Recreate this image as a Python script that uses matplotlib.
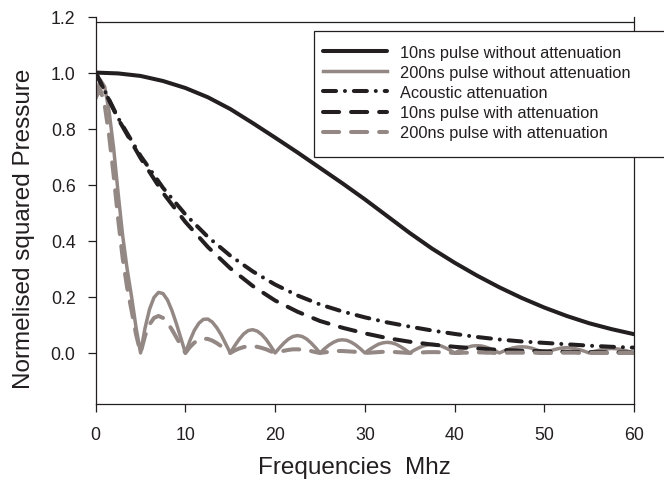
import matplotlib
matplotlib.use("Agg")
import matplotlib.pyplot as plt
from matplotlib.patches import Rectangle

plt.rcParams['font.family'] = ['Liberation Sans', 'DejaVu Sans']
plt.rcParams['lines.scale_dashes'] = False

# ---------------- data ----------------
freq_coarse = [0, 2.5, 5, 7.5, 10, 12.5, 15, 17.5, 20, 22.5, 25, 27.5, 30,
               32.5, 35, 37.5, 40, 42.5, 45, 47.5, 50, 52.5, 55, 57.5, 60]

p10_no_att = [1.0, 0.997, 0.988, 0.970, 0.945, 0.912, 0.870, 0.820, 0.768, 0.715,
              0.660, 0.605, 0.548, 0.488, 0.428, 0.372, 0.322, 0.276, 0.234, 0.196,
              0.162, 0.132, 0.106, 0.085, 0.067]

acoustic_att = [1.0, 0.838, 0.703, 0.589, 0.494, 0.414, 0.347, 0.291, 0.244, 0.205,
                0.173, 0.148, 0.127, 0.109, 0.094, 0.080, 0.068, 0.057, 0.048, 0.041,
                0.036, 0.031, 0.026, 0.022, 0.019]

p10_att = [1.0, 0.835, 0.695, 0.571, 0.467, 0.378, 0.302, 0.239, 0.187, 0.147,
           0.114, 0.090, 0.070, 0.053, 0.040, 0.030, 0.022, 0.016, 0.011, 0.008,
           0.006, 0.004, 0.003, 0.002, 0.001]

freq_fine = [0, 0.5, 1, 1.5, 2, 2.5, 3, 3.5, 4, 4.5, 5,
             5.5, 6, 6.5, 7, 7.5, 8, 8.5, 9, 9.5, 10,
             10.5, 11, 11.5, 12, 12.5, 13, 13.5, 14, 14.5, 15,
             15.5, 16, 16.5, 17, 17.5, 18, 18.5, 19, 19.5, 20,
             20.5, 21, 21.5, 22, 22.5, 23, 23.5, 24, 24.5, 25,
             25.5, 26, 26.5, 27, 27.5, 28, 28.5, 29, 29.5, 30,
             30.5, 31, 31.5, 32, 32.5, 33, 33.5, 34, 34.5, 35,
             35.5, 36, 36.5, 37, 37.5, 38, 38.5, 39, 39.5, 40,
             40.5, 41, 41.5, 42, 42.5, 43, 43.5, 44, 44.5, 45,
             45.5, 46, 46.5, 47, 47.5, 48, 48.5, 49, 49.5, 50,
             50.5, 51, 51.5, 52, 52.5, 53, 53.5, 54, 54.5, 55,
             55.5, 56, 56.5, 57, 57.5, 58, 58.5, 59, 59.5, 60]

p200_no_att = [0.91, 0.975, 0.95, 0.86, 0.73, 0.57, 0.42, 0.30, 0.20, 0.09, 0.0,
               0.089, 0.156, 0.198, 0.216, 0.212, 0.189, 0.151, 0.104, 0.052, 0.0,
               0.044, 0.081, 0.106, 0.120, 0.121, 0.110, 0.090, 0.064, 0.032, 0.0,
               0.026, 0.049, 0.068, 0.080, 0.083, 0.078, 0.066, 0.048, 0.025, 0.0,
               0.019, 0.036, 0.050, 0.059, 0.062, 0.059, 0.050, 0.036, 0.019, 0.0,
               0.015, 0.028, 0.038, 0.045, 0.047, 0.045, 0.038, 0.028, 0.015, 0.0,
               0.012, 0.022, 0.031, 0.036, 0.038, 0.036, 0.031, 0.022, 0.012, 0.0,
               0.010, 0.018, 0.025, 0.029, 0.031, 0.029, 0.025, 0.018, 0.010, 0.0,
               0.008, 0.015, 0.021, 0.025, 0.026, 0.025, 0.021, 0.015, 0.008, 0.0,
               0.007, 0.013, 0.018, 0.021, 0.022, 0.021, 0.018, 0.013, 0.007, 0.0,
               0.006, 0.011, 0.015, 0.018, 0.019, 0.018, 0.015, 0.011, 0.006, 0.0,
               0.005, 0.009, 0.013, 0.015, 0.016, 0.015, 0.013, 0.009, 0.005, 0.0]

p200_att = [0.91, 0.941, 0.885, 0.774, 0.634, 0.478, 0.340, 0.234, 0.151, 0.066, 0.0,
            0.061, 0.102, 0.125, 0.132, 0.125, 0.108, 0.083, 0.055, 0.027, 0.0,
            0.021, 0.037, 0.047, 0.051, 0.050, 0.044, 0.035, 0.024, 0.012, 0.0,
            0.009, 0.016, 0.021, 0.024, 0.024, 0.022, 0.018, 0.013, 0.006, 0.0,
            0.004, 0.008, 0.011, 0.013, 0.013, 0.012, 0.010, 0.007, 0.003, 0.0,
            0.002, 0.004, 0.006, 0.007, 0.007, 0.006, 0.005, 0.004, 0.002, 0.0,
            0.001, 0.002, 0.003, 0.004, 0.004, 0.004, 0.003, 0.002, 0.001, 0.0,
            0.001, 0.002, 0.002, 0.003, 0.003, 0.003, 0.002, 0.002, 0.001, 0.0,
            0.0, 0.001, 0.001, 0.002, 0.002, 0.002, 0.001, 0.001, 0.0, 0.0,
            0.0, 0.001, 0.001, 0.001, 0.001, 0.001, 0.001, 0.001, 0.0, 0.0,
            0.0, 0.0, 0.001, 0.001, 0.001, 0.001, 0.001, 0.0, 0.0, 0.0,
            0.0, 0.0, 0.0, 0.0, 0.0, 0.0, 0.0, 0.0, 0.0, 0.0]

labels = ["10ns pulse without attenuation",
          "200ns pulse without attenuation",
          "Acoustic attenuation",
          "10ns pulse with attenuation",
          "200ns pulse with attenuation"]

x_ticks = [0, 10, 20, 30, 40, 50, 60]
y_ticks = [0.0, 0.2, 0.4, 0.6, 0.8, 1.0, 1.2]

# ---------------- style ----------------
BLACK = '#231f20'
GRAY = '#948885'
W, H = 664, 481

fig = plt.figure(figsize=(W / 100, H / 100), dpi=100)
ax = fig.add_axes([95.7 / W, 76 / H, (634 - 95.7) / W, (405 - 17.5) / H])

l1, = ax.plot(freq_coarse, p10_no_att, color=BLACK, lw=2.9, solid_capstyle='round',
              solid_joinstyle='round')
l2, = ax.plot(freq_fine, p200_no_att, color=GRAY, lw=2.5, solid_joinstyle='round')
l3, = ax.plot(freq_coarse, acoustic_att, color=BLACK, lw=2.9,
              dashes=(9.4, 6.4, 0.01, 6.4), dash_capstyle='round')
l4, = ax.plot(freq_coarse, p10_att, color=BLACK, lw=2.9,
              dashes=(11.6, 8.6), dash_capstyle='round')
l5, = ax.plot(freq_fine, p200_att, color=GRAY, lw=2.9,
              dashes=(11.6, 8.6), dash_capstyle='round')

ax.set_xlim(0, 60)
ax.set_ylim(-0.182, 1.2)
ax.set_xticks(x_ticks)
ax.set_xticklabels([str(v) for v in x_ticks])
ax.set_yticks(y_ticks)
ax.set_yticklabels([f"{v:.1f}" for v in y_ticks])

for s in ['left', 'right', 'bottom']:
    ax.spines[s].set_color(BLACK)
    ax.spines[s].set_linewidth(0.9)
ax.spines['top'].set_visible(False)
ax.axhline(1.182, color=BLACK, lw=0.9, zorder=2.5)

ax.tick_params(axis='both', direction='out', length=5.5, width=0.9, color=BLACK,
               labelsize=12.8, labelcolor=BLACK)
ax.tick_params(axis='y', pad=9)
ax.tick_params(axis='x', pad=10)

fig.text(24 / W, 1 - 228.5 / H, "Normelised squared Pressure", rotation=90,
         ha='center', va='center', fontsize=17.5, color=BLACK)
fig.text(354 / W, 1 - 468 / H, "Frequencies  Mhz",
         ha='center', va='center', fontsize=17.5, color=BLACK)

# legend box (extends past the right edge of the figure, as in the original)
box = Rectangle((314 / W, 1 - 158 / H), 420 / W, (158 - 31.7) / H,
                transform=fig.transFigure, facecolor='white', edgecolor=BLACK,
                lw=0.9, zorder=5, clip_on=False)
ax.add_patch(box)

leg = ax.legend([l1, l2, l3, l4, l5], labels, loc='upper left',
                bbox_to_anchor=(323 / W, 1 - 46 / H), bbox_transform=fig.transFigure,
                frameon=False, borderpad=0, borderaxespad=0,
                handlelength=3.9, handletextpad=0.8, labelspacing=0.31,
                prop={'size': 11.8})
leg.set_zorder(6)
for t in leg.get_texts():
    t.set_color(BLACK)

fig.savefig("out.png", dpi=100)
